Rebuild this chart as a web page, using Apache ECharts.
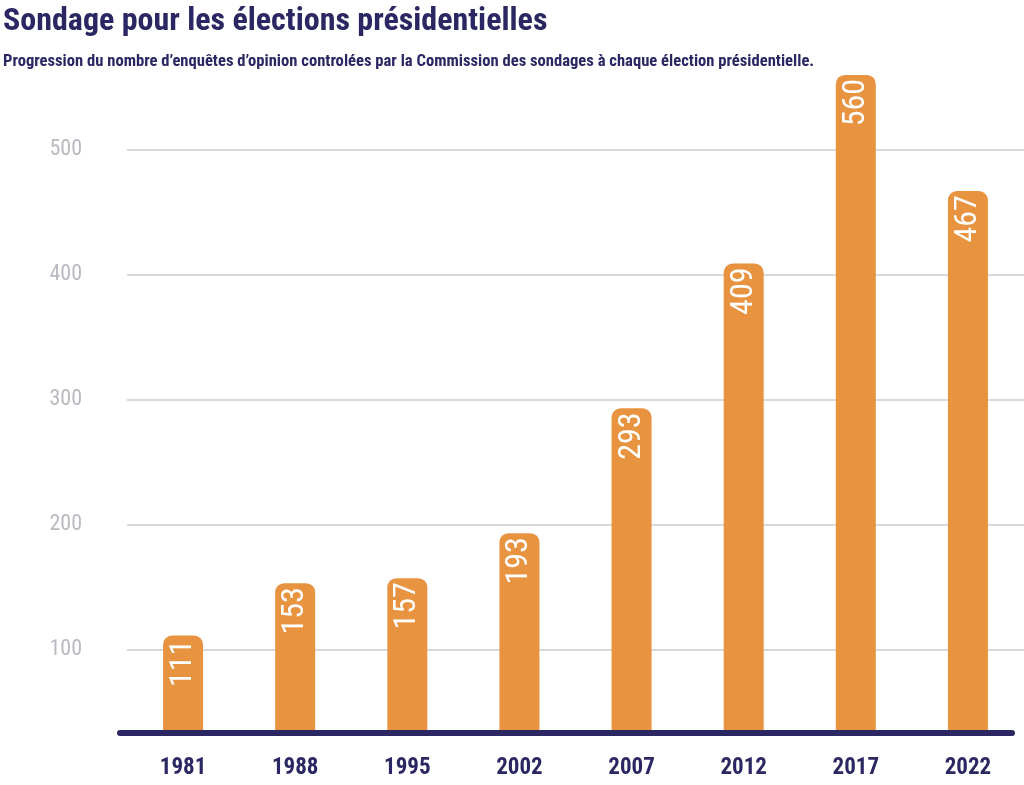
<!DOCTYPE html>
<html>
<head>
<meta charset="utf-8">
<script src="https://cdn.jsdelivr.net/npm/echarts@6/dist/echarts.min.js"></script>
<style>
html,body{margin:0;padding:0;background:#fff;}
#c{width:1024px;height:785px;}
</style>
</head>
<body>
<div id="c"></div>
<script>
const titleText = "Sondage pour les élections présidentielles";
const subtitleText = "Progression du nombre d\u2019enquêtes d\u2019opinion controlées par la Commission des sondages à chaque élection présidentielle.";
const years = ["1981","1988","1995","2002","2007","2012","2017","2022"];
const surveys = [111,153,157,193,293,409,560,467];
const yTicks = [100,200,300,400,500];
const yMin = 33;
const yMax = 580;

const NAVY = "#2b2762";
const ORANGE = "#e8933f";
const FONT = "'Roboto Condensed','Open Sans Condensed',sans-serif";

const chart = echarts.init(document.getElementById('c'), null, {renderer:'canvas'});
chart.setOption({
  backgroundColor: '#ffffff',
  animation: false,
  title: [{
    text: titleText,
    left: 3, top: 6, padding: 0,
    textStyle: {fontFamily: FONT, fontWeight: 'bold', fontSize: 32, color: NAVY}
  },{
    text: subtitleText,
    left: 3, top: 53, padding: 0,
    textStyle: {fontFamily: FONT, fontWeight: 'bold', fontSize: 16.6, color: NAVY}
  }],
  grid: {left: 127, right: -5, top: 50, bottom: 52, containLabel: false},
  xAxis: {
    type: 'category',
    data: years,
    axisLine: {show: false},
    axisTick: {show: false},
    axisLabel: {margin: 24, fontFamily: FONT, fontWeight: 'bold', fontSize: 23, color: NAVY}
  },
  yAxis: {
    type: 'value',
    min: yMin, max: yMax,
    axisLine: {show: false},
    axisTick: {show: false, customValues: yTicks},
    axisLabel: {customValues: yTicks, margin: 45, fontFamily: FONT, fontSize: 22, color: '#b9b9c1'},
    splitLine: {show: true, lineStyle: {color: '#d9d9dc', width: 2}}
  },
  series: [{
    type: 'bar',
    data: surveys,
    barWidth: 40,
    itemStyle: {color: ORANGE, borderRadius: [9,9,0,0]},
    label: {
      show: true,
      position: 'insideTop',
      distance: 4,
      rotate: 90,
      align: 'right',
      verticalAlign: 'middle',
      fontFamily: FONT,
      fontSize: 32,
      color: '#ffffff'
    }
  }]
});

const yAxisPix = chart.convertToPixel({yAxisIndex: 0}, yMin);
chart.setOption({
  graphic: [{
    type: 'line',
    z: 100,
    shape: {x1: 120, y1: yAxisPix, x2: 1012, y2: yAxisPix},
    style: {stroke: NAVY, lineWidth: 6, lineCap: 'round'}
  }]
});
</script>
</body>
</html>
